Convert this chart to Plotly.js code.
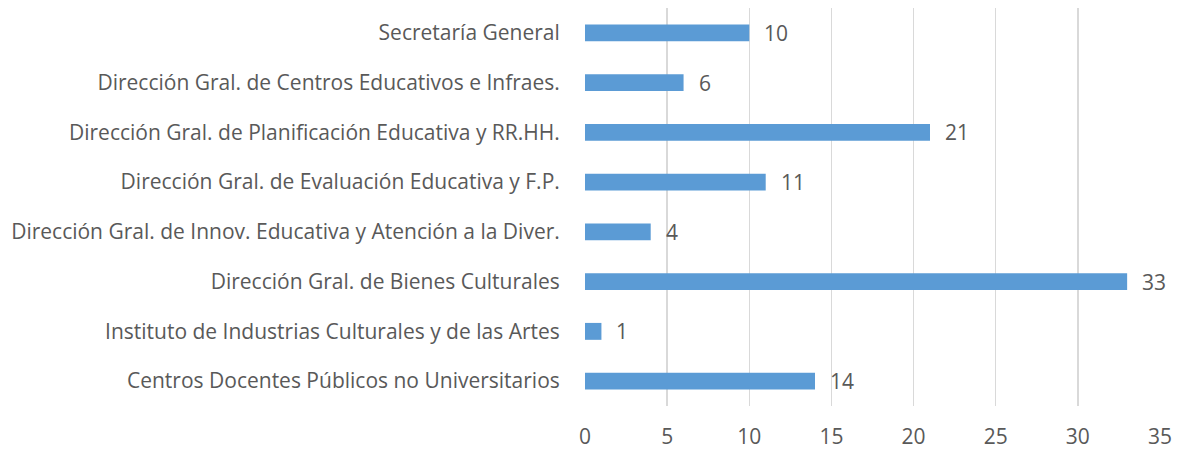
<!DOCTYPE html>
<html>
<head>
<meta charset="utf-8">
<script src="https://cdn.plot.ly/plotly-3.0.1.min.js"></script>
<style>html,body{margin:0;padding:0;background:#fff}#chart{width:1185px;height:453px}</style>
</head>
<body>
<div id="chart"></div>
<script>
const categories = [
  "Secretaría General",
  "Dirección Gral. de Centros Educativos e Infraes.",
  "Dirección Gral. de Planificación Educativa y RR.HH.",
  "Dirección Gral. de Evaluación Educativa y F.P.",
  "Dirección Gral. de Innov. Educativa y Atención a la Diver.",
  "Dirección Gral. de Bienes Culturales",
  "Instituto de Industrias Culturales y de las Artes",
  "Centros Docentes Públicos no Universitarios"
];
const values = [10, 6, 21, 11, 4, 33, 1, 14];
const xTicks = [0, 5, 10, 15, 20, 25, 30, 35];

const fontFamily = "'Open Sans', sans-serif";
const textColor = "#595959";
const fs = 21;

const annotations = categories.map((c, i) => ({
  x: values[i], y: c, xref: 'x', yref: 'y',
  text: String(values[i]), showarrow: false,
  xanchor: 'left', yanchor: 'middle', xshift: 13,
  font: {family: fontFamily, size: fs, color: textColor}
}));

Plotly.newPlot('chart', [{
  type: 'bar', orientation: 'h',
  x: values, y: categories,
  marker: {color: '#5B9BD5', line: {width: 0}},
  hoverinfo: 'none'
}], {
  width: 1185, height: 453,
  margin: {l: 585, r: 25, t: 8, b: 47},
  paper_bgcolor: '#fff', plot_bgcolor: '#fff',
  bargap: 0.66,
  showlegend: false,
  font: {family: fontFamily, size: fs, color: textColor},
  xaxis: {
    range: [0, 35], tickvals: xTicks, ticktext: xTicks.map(String),
    showgrid: true, gridcolor: '#d9d9d9', gridwidth: 1.5,
    zeroline: false, showline: false,
    ticks: 'outside', ticklen: 12, tickcolor: 'rgba(0,0,0,0)',
    tickfont: {family: fontFamily, size: fs, color: textColor},
    automargin: false, fixedrange: true
  },
  yaxis: {
    autorange: 'reversed', type: 'category',
    showgrid: false, zeroline: false, showline: false,
    ticks: 'outside', ticklen: 20, tickcolor: 'rgba(0,0,0,0)',
    tickfont: {family: fontFamily, size: fs, color: textColor},
    automargin: false, fixedrange: true
  },
  annotations: annotations
}, {displayModeBar: false, staticPlot: true});
</script>
</body>
</html>
